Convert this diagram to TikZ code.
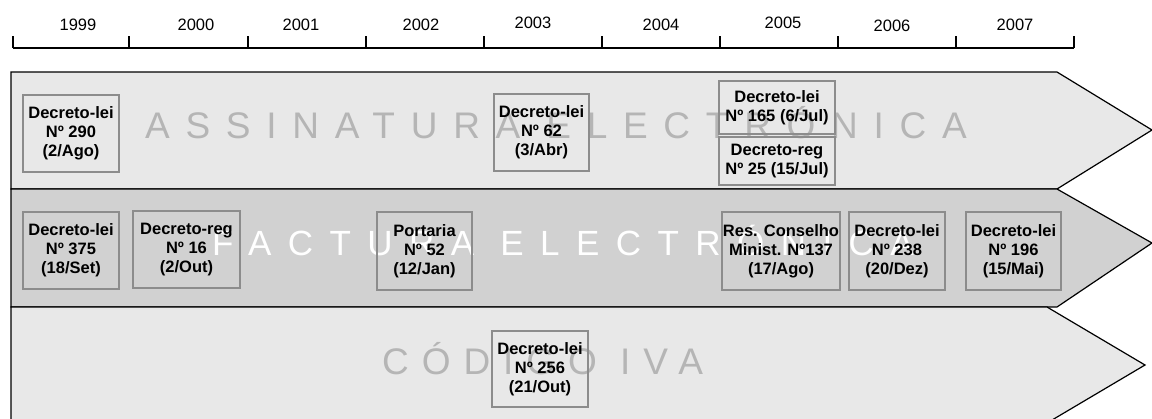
\documentclass[tikz,border=0pt]{standalone}
\usepackage{fontspec}
\setmainfont{Liberation Sans}
\definecolor{bandlight}{gray}{0.91}
\definecolor{banddark}{gray}{0.82}
\definecolor{boxedge}{gray}{0.55}
\definecolor{ghost}{gray}{0.71}
\begin{document}
\begin{tikzpicture}[x=1pt,y=-1pt,
  band/.style={draw=black, line width=1.2pt, line join=miter},
  axisline/.style={draw=black, line width=1.4pt},
  lawbox/.style={draw=boxedge, line width=1.3pt, inner sep=0pt, align=center,
    font=\bfseries\fontsize{16.5}{19}\selectfont},
  yearlabel/.style={anchor=base, inner sep=0pt, font=\fontsize{16.5}{19}\selectfont},
  bandtitle/.style={anchor=base west, inner sep=0pt}
]
\useasboundingbox (0,0) rectangle (1152,418);

% the three chevron bands
\begin{scope}
  \clip (0,0) rectangle (1152,418);
  \path[band, fill=bandlight] (11,72) -- (1057,72) -- (1152,130) -- (1057,189) -- (11,189) -- cycle;
  \path[band, fill=banddark] (11,189) -- (1057,189) -- (1152,243) -- (1057,307) -- (11,307) -- cycle;
  \path[band, fill=bandlight] (11,307) -- (1047,307) -- (1145,365) -- (1047,423) -- (11,423) -- cycle;
\end{scope}

% band titles
\node[bandtitle, text=ghost, font=\fontsize{37}{40}\selectfont\addfontfeature{LetterSpace=42.5}] (tsig) at (145,138) {ASSINATURA ELECTRÓNICA};
\node[bandtitle, text=white, font=\fontsize{35}{40}\selectfont\addfontfeature{LetterSpace=47}] (tfac) at (212,255) {FACTURA ELECTRÓNICA};
\node[bandtitle, text=ghost, font=\fontsize{37}{40}\selectfont\addfontfeature{LetterSpace=35}] (tiva) at (382,374) {CÓDIGO IVA};

% time axis
\draw[axisline] (13,48) -- (1074,48);
\foreach \x in {13,129,248,366,484,602,720,838,956,1074}
  \draw[axisline] (\x,36) -- (\x,48);

\node[yearlabel] (y1999) at (78,30) {1999};
\node[yearlabel] (y2000) at (196,30) {2000};
\node[yearlabel] (y2001) at (301,30) {2001};
\node[yearlabel] (y2002) at (421,30) {2002};
\node[yearlabel] (y2003) at (533,28) {2003};
\node[yearlabel] (y2004) at (661,30.5) {2004};
\node[yearlabel] (y2005) at (783,28) {2005};
\node[yearlabel] (y2006) at (892,31) {2006};
\node[yearlabel] (y2007) at (1015,30) {2007};

% legislation boxes: signature band
\node[lawbox, minimum width=96, minimum height=77] (dl290) at (71,133.5) {Decreto-lei\\Nº 290\\(2/Ago)};
\node[lawbox, minimum width=95, minimum height=77] (dl62) at (541.5,132.5) {Decreto-lei\\Nº 62\\(3/Abr)};
\node[lawbox, minimum width=116, minimum height=53] (dl165) at (777,107.5) {Decreto-lei\\Nº 165 (6/Jul)};
\node[lawbox, minimum width=116, minimum height=48] (dr25) at (777,161) {Decreto-reg\\Nº 25 (15/Jul)};

% invoicing band
\node[lawbox, minimum width=96, minimum height=77] (dl375) at (71,250.5) {Decreto-lei\\Nº 375\\(18/Set)};
\node[lawbox, minimum width=107, minimum height=77] (dr16) at (186.5,249.5) {Decreto-reg\\Nº 16\\(2/Out)};
\node[lawbox, minimum width=95, minimum height=78] (pt52) at (424.5,251) {Portaria\\Nº 52\\(12/Jan)};
\node[lawbox, minimum width=118, minimum height=78] (rcm137) at (781,251) {Res. Conselho\\Minist. Nº137\\(17/Ago)};
\node[lawbox, minimum width=96, minimum height=78] (dl238) at (897,251) {Decreto-lei\\Nº 238\\(20/Dez)};
\node[lawbox, minimum width=95, minimum height=78] (dl196) at (1013.5,251) {Decreto-lei\\Nº 196\\(15/Mai)};

% VAT band
\node[lawbox, minimum width=96, minimum height=76] (dl256) at (540,369) {Decreto-lei\\Nº 256\\(21/Out)};
\end{tikzpicture}
\end{document}
